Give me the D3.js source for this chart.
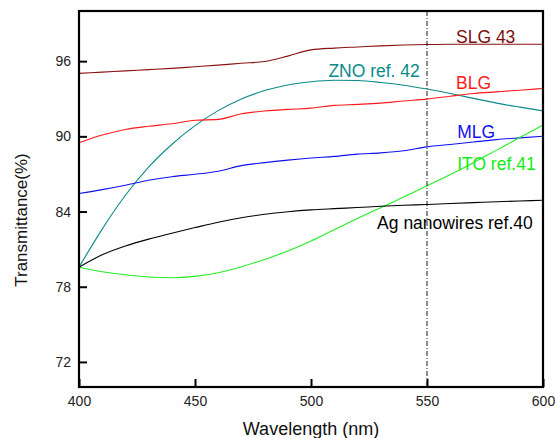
<!DOCTYPE html>
<html>
<head>
<meta charset="utf-8">
<script src="https://cdn.jsdelivr.net/npm/d3@7/dist/d3.min.js"></script>
<style>
  html, body { margin: 0; padding: 0; background: #fff; }
  svg { display: block; font-family: "Liberation Sans", Arial, sans-serif; }
</style>
</head>
<body>
<svg id="chart" width="555" height="438"></svg>
<script>
const wavelengths = [400,410,420,430,440,450,460,470,480,490,500,510,520,530,540,550,560,570,580,590,600];
const slg = [95.02,95.12,95.22,95.32,95.42,95.55,95.68,95.83,95.97,96.4,96.9,97.04,97.13,97.22,97.29,97.33,97.35,97.35,97.35,97.35,97.35];
const blg = [89.48,90.1,90.55,90.8,91.0,91.28,91.35,91.8,92.02,92.15,92.25,92.47,92.55,92.65,92.82,92.97,93.2,93.42,93.55,93.68,93.82];
const zno = [79.56,82.6,85.3,87.55,89.35,90.85,92.05,92.98,93.65,94.1,94.36,94.48,94.45,94.3,94.08,93.77,93.42,93.03,92.65,92.33,92.03];
const mlg = [85.44,85.75,86.1,86.5,86.78,86.97,87.22,87.66,87.9,88.1,88.27,88.4,88.58,88.68,88.85,89.16,89.35,89.55,89.74,89.88,90.01];
const ito = [79.56,79.2,78.95,78.78,78.72,78.83,79.12,79.6,80.18,80.85,81.65,82.55,83.45,84.3,85.15,86.05,86.95,87.9,88.9,89.9,90.9];
const ag = [79.56,80.55,81.25,81.8,82.27,82.72,83.15,83.5,83.78,83.98,84.13,84.23,84.32,84.42,84.5,84.56,84.64,84.71,84.78,84.84,84.9];

const seriesNames = ["SLG 43","ZNO ref. 42","BLG","MLG","ITO ref.41","Ag nanowires ref.40"];
const seriesValues = [slg, zno, blg, mlg, ito, ag];
const seriesColors = ["#8b1212","#0a8a8a","#ff1a1a","#1010f0","#22ee22","#000000"];
// label anchor in data coordinates (wavelength, transmittance)
const labelX = [562.5, 507.5, 562.5, 563, 563, 528.5];
const labelY = [97.45, 94.75, 93.8, 89.9, 87.3, 82.6];
const labelColors = ["#7a0e0e","#0a8a8a","#ff1a1a","#1010f0","#11ee11","#000000"];

const xTicks = [400,450,500,550,600];
const yTicks = [72,78,84,90,96];
const markerWavelength = 550;

const svg = d3.select("#chart");
const L = 79, R = 543, T = 11, B = 387;
const x = d3.scaleLinear().domain([400,600]).range([L,R]);
const y = d3.scaleLinear().domain([70,100]).range([B,T]);

// curves
const line = d3.line().x((d,i)=>x(wavelengths[i])).y(d=>y(d)).curve(d3.curveMonotoneX);
seriesValues.forEach((vals,k)=>{
  svg.append("path").datum(vals)
    .attr("d", line)
    .attr("fill","none")
    .attr("stroke", seriesColors[k])
    .attr("stroke-width", 1.1);
});

// marker line
svg.append("line")
  .attr("x1", x(markerWavelength)).attr("x2", x(markerWavelength))
  .attr("y1", y(100)).attr("y2", y(70))
  .attr("stroke","#000").attr("stroke-width",0.9)
  .attr("stroke-dasharray","5,2,1,2");

// labels
seriesNames.forEach((n,k)=>{
  svg.append("text")
    .attr("x", x(labelX[k])).attr("y", y(labelY[k]))
    .attr("fill", labelColors[k])
    .attr("font-size", 17.5)
    .text(n);
});

// axes
const yAxis = d3.axisLeft(y).tickValues(yTicks).tickSizeInner(-8).tickSizeOuter(0).tickPadding(8);
const gy = svg.append("g").attr("transform",`translate(${L},0)`).call(yAxis);
const xAxis = d3.axisBottom(x).tickValues(xTicks).tickSizeInner(-8).tickSizeOuter(0).tickPadding(9);
const gx = svg.append("g").attr("transform",`translate(0,${B})`).call(xAxis);
[gx, gy].forEach(g=>{
  g.select(".domain").remove();
  g.selectAll(".tick line").attr("stroke","#000").attr("stroke-width",2);
  g.selectAll(".tick text").attr("fill","#222").attr("font-size",14)
    .attr("font-family",'"Liberation Sans", Arial, sans-serif');
});

// frame
svg.append("rect")
  .attr("x", L).attr("y", T).attr("width", R-L).attr("height", B-T)
  .attr("fill","none").attr("stroke","#000").attr("stroke-width",2.2);

// axis titles
svg.append("text")
  .attr("x", (L+R)/2).attr("y", 435)
  .attr("text-anchor","middle").attr("font-size",18).attr("fill","#111")
  .text("Wavelength (nm)");
svg.append("text")
  .attr("transform","translate(27,220) rotate(-90)")
  .attr("text-anchor","middle").attr("font-size",17).attr("fill","#111")
  .text("Transmittance(%)");
</script>
</body>
</html>
